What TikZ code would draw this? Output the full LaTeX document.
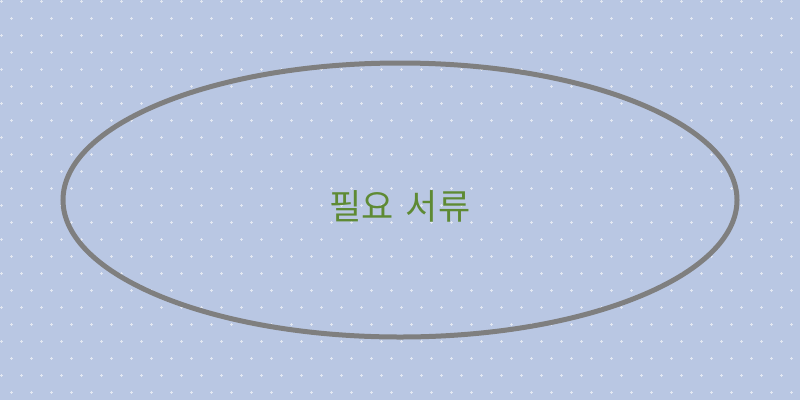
\documentclass[tikz,border=0pt]{standalone}
\usepackage{fontspec}
\newfontfamily\krfont{Noto Sans CJK KR}
\definecolor{bgblue}{HTML}{B9C7E3}
\definecolor{dotc}{HTML}{E2E7F1}
\definecolor{ringgray}{HTML}{7F7F7F}
\definecolor{labelgreen}{HTML}{5E8A34}
\tikzset{
  plusmark/.style={draw=dotc, line width=0.9pt},
  labeltext/.style={text=labelgreen, font=\krfont\fontsize{35}{42}\selectfont, inner sep=0pt}
}
\begin{document}
\begin{tikzpicture}[x=1pt,y=-1pt]
  \fill[bgblue] (0,0) rectangle (800,400);
  \useasboundingbox (0,0) rectangle (800,400);
  \foreach \j in {0,...,23}{
    \pgfmathsetmacro{\yy}{1.7+17*\j}
    \pgfmathsetmacro{\off}{mod(\j,2)*10}
    \foreach \i in {0,...,40}{
      \pgfmathsetmacro{\xx}{1.7+\off+20*\i}
      \draw[plusmark] (\xx-1.5,\yy) -- (\xx+1.5,\yy) (\xx,\yy-1.5) -- (\xx,\yy+1.5);
    }
  }
  \draw[draw=ringgray, line width=5pt] (400,200) circle [x radius=337, y radius=137];
  \node[labeltext] (lbl) at (400,206) {필요\hspace{0.12em} 서류};
\end{tikzpicture}
\end{document}
